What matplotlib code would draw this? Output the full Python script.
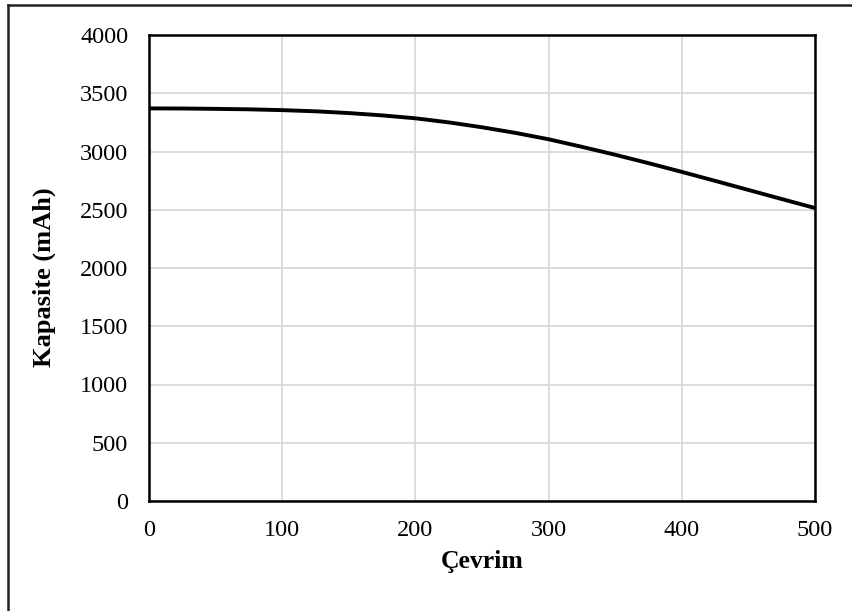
import numpy as np
import matplotlib.pyplot as plt
from matplotlib.lines import Line2D

# data
cycles = [0, 25, 50, 75, 100, 125, 150, 175, 200, 225, 250,
          275, 300, 325, 350, 375, 400, 425, 450, 475, 500]
capacity = [3370, 3369, 3366, 3362, 3355, 3345, 3330, 3310, 3285, 3250, 3208,
            3160, 3105, 3040, 2972, 2900, 2825, 2748, 2670, 2592, 2515]

x_ticks = [0, 100, 200, 300, 400, 500]
y_ticks = [0, 500, 1000, 1500, 2000, 2500, 3000, 3500, 4000]

plt.rcParams['font.family'] = ['Liberation Serif', 'DejaVu Serif']

W, H = 853, 611
fig = plt.figure(figsize=(W / 100, H / 100), dpi=100)
ax = fig.add_axes([149 / W, 1 - 501 / H, (815 - 149) / W, (501 - 35) / H])

ax.plot(cycles, capacity, color='black', linewidth=2.8,
        solid_joinstyle='round', solid_capstyle='butt')

ax.set_xlim(0, 500)
ax.set_ylim(0, 4000)
ax.set_xticks(x_ticks)
ax.set_yticks(y_ticks)
ax.grid(True, color='#d9d9d9', linewidth=1.3)
ax.set_axisbelow(True)
ax.tick_params(axis='y', length=0, labelsize=17.5, pad=15)
ax.tick_params(axis='x', length=0, labelsize=17.5, pad=14)
for s in ax.spines.values():
    s.set_color('black')
    s.set_linewidth(1.8)

ax.set_xlabel('Çevrim', fontsize=18.5, fontweight='bold', labelpad=6)
ax.set_ylabel('Kapasite (mAh)', fontsize=19, fontweight='bold')
ax.yaxis.set_label_coords(-(149 - 44) / (815 - 149), 0.48)
ax.yaxis.label.set_verticalalignment('center')

# outer chart border (left and top visible)
fig.add_artist(Line2D([8 / W, 8 / W], [0, 1 - 5 / H], color='#222222', linewidth=1.8))
fig.add_artist(Line2D([8 / W, 1], [1 - 5 / H, 1 - 5 / H], color='#222222', linewidth=1.8))

fig.savefig('out.png', dpi=100)
